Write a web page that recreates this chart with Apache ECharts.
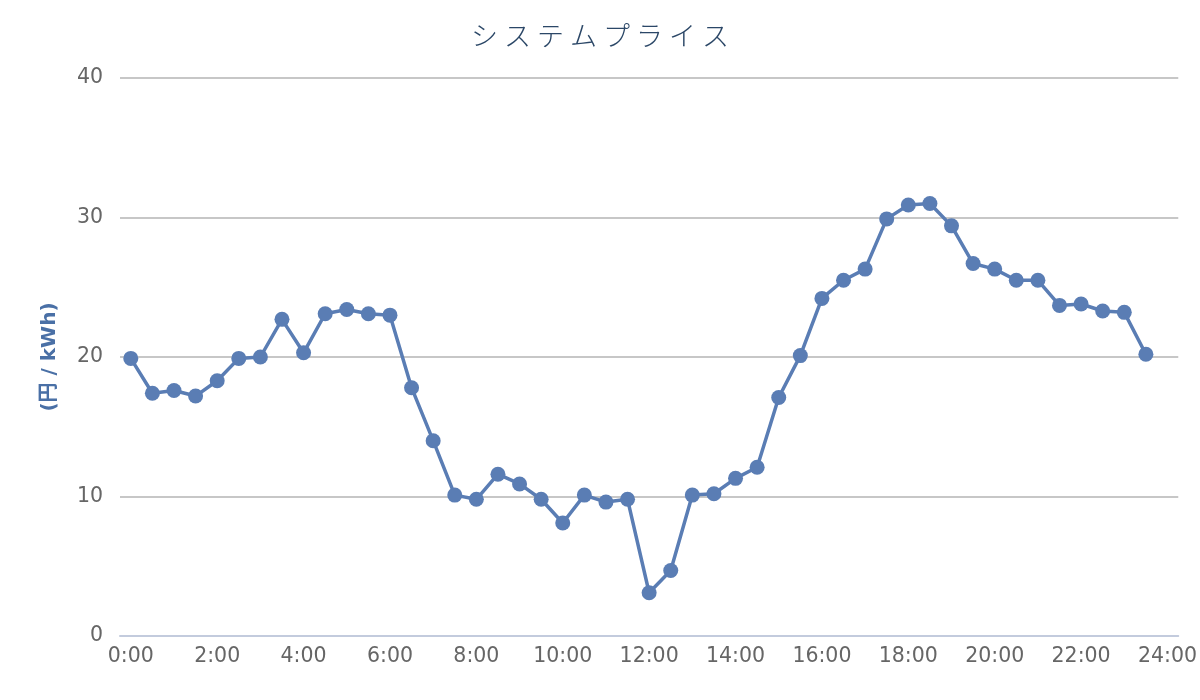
<!DOCTYPE html>
<html>
<head>
<meta charset="utf-8">
<script src="https://cdn.jsdelivr.net/npm/echarts@6/dist/echarts.min.js"></script>
<style>html,body{margin:0;padding:0;background:#fff;}#c{width:1200px;height:700px;}</style>
</head>
<body>
<div id="c"></div>
<script>
// time categories (every 30 min, 0:00 .. 24:00)
const times = [];
for (let h = 0; h <= 24; h++) {
  times.push(h + ':00');
  if (h < 24) times.push(h + ':30');
}
// system price (円/kWh), one value per 30 minutes (no data at 24:00)
const prices = [
  19.9, 17.4, 17.6, 17.2, 18.3, 19.9, 20.0, 22.7, 20.3, 23.1, 23.4, 23.1,
  23.0, 17.8, 14.0, 10.1, 9.8, 11.6, 10.9, 9.8, 8.1, 10.1, 9.6, 9.8,
  3.1, 4.7, 10.1, 10.2, 11.3, 12.1, 17.1, 20.1, 24.2, 25.5, 26.3, 29.9,
  30.9, 31.0, 29.4, 26.7, 26.3, 25.5, 25.5, 23.7, 23.8, 23.3, 23.2, 20.2
];
const titleText = 'シ ス テ ム プ ラ イ ス';
const yName = '(円 / kWh)';

const chart = echarts.init(document.getElementById('c'));
chart.setOption({
  animation: false,
  backgroundColor: '#ffffff',
  title: {
    text: titleText,
    left: 'center',
    top: 17,
    textStyle: {
      fontFamily: '"Noto Sans CJK JP", sans-serif',
      fontWeight: 300,
      fontSize: 27,
      color: '#2b4767'
    }
  },
  grid: { left: 120, right: 20, top: 78, bottom: 64 },
  xAxis: {
    type: 'category',
    data: times,
    boundaryGap: true,
    axisLine: { lineStyle: { color: '#c3cbdd', width: 2 } },
    axisTick: { alignWithLabel: true, interval: 0, length: 6, lineStyle: { color: '#c3cbdd', width: 1.5 } },
    axisLabel: {
      interval: 3,
      fontSize: 20.5,
      color: '#666666',
      margin: 10,
      fontFamily: '"DejaVu Sans", sans-serif'
    },
    splitLine: { show: false }
  },
  yAxis: {
    type: 'value',
    min: 0,
    max: 40,
    interval: 10,
    name: yName,
    nameLocation: 'middle',
    nameRotate: 90,
    nameGap: 60,
    nameTextStyle: {
      fontSize: 20,
      fontWeight: 'bold',
      color: '#4a70a6',
      fontFamily: '"DejaVu Sans", "Noto Sans CJK JP", sans-serif'
    },
    axisLine: { show: false },
    axisTick: { show: false },
    axisLabel: {
      fontSize: 20.5,
      color: '#666666',
      margin: 17,
      fontFamily: '"DejaVu Sans", sans-serif'
    },
    splitLine: { lineStyle: { color: '#b5b5b5', width: 1.5 } }
  },
  series: [{
    type: 'line',
    data: prices,
    symbol: 'circle',
    symbolSize: 15,
    showAllSymbol: true,
    lineStyle: { color: '#5a7db4', width: 3.5 },
    itemStyle: { color: '#5a7db4' }
  }]
});
</script>
</body>
</html>
